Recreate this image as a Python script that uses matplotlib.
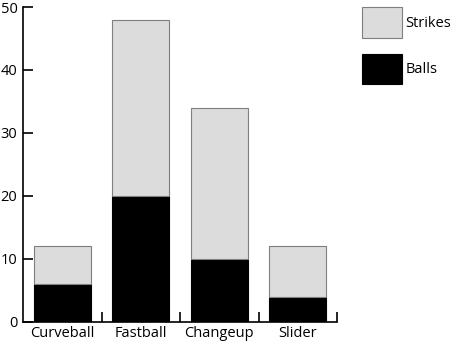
import numpy as np
import matplotlib.pyplot as plt

plt.rcParams['font.family'] = ['Open Sans', 'DejaVu Sans']

pitches = ['Curveball', 'Fastball', 'Changeup', 'Slider']
balls = [6, 20, 10, 4]
strikes = [6, 28, 24, 8]

fig = plt.figure(figsize=(4.5, 3.42), dpi=100)
ax = fig.add_axes([0.0511, 0.0594, 0.698, 0.92])

x = np.arange(len(pitches))
b1 = ax.bar(x, balls, width=0.73, color='black', edgecolor='black', linewidth=0.8, label='Balls')
b2 = ax.bar(x, strikes, width=0.73, bottom=balls, color='#dcdcdc', edgecolor='#7f7f7f',
            linewidth=0.8, label='Strikes')

ax.set_xlim(-0.5, len(pitches) - 0.5)
ax.set_ylim(0, 50)
ax.set_yticks(range(0, 51, 10))
ax.set_xticks(x)
ax.set_xticklabels(pitches)
ax.set_xticks(x + 0.5, minor=True)
ax.tick_params(axis='x', which='major', length=0, pad=3, labelsize=10.5)
ax.tick_params(axis='x', which='minor', direction='in', length=7, width=1.2)
ax.tick_params(axis='y', direction='in', length=7, width=1.2, pad=4, labelsize=10.5)

for s in ['top', 'right']:
    ax.spines[s].set_visible(False)
for s in ['left', 'bottom']:
    ax.spines[s].set_linewidth(1.2)

fs = 10.5
fig.legend([b2, b1], ['Strikes', 'Balls'], loc='upper left',
           bbox_to_anchor=(361.7 / 450, 1 - 7 / 342), bbox_transform=fig.transFigure,
           frameon=False, borderpad=0, borderaxespad=0, fontsize=fs,
           handlelength=2.75, handleheight=2.85, handletextpad=0.25, labelspacing=1.1)

fig.savefig('out.png', dpi=100)
